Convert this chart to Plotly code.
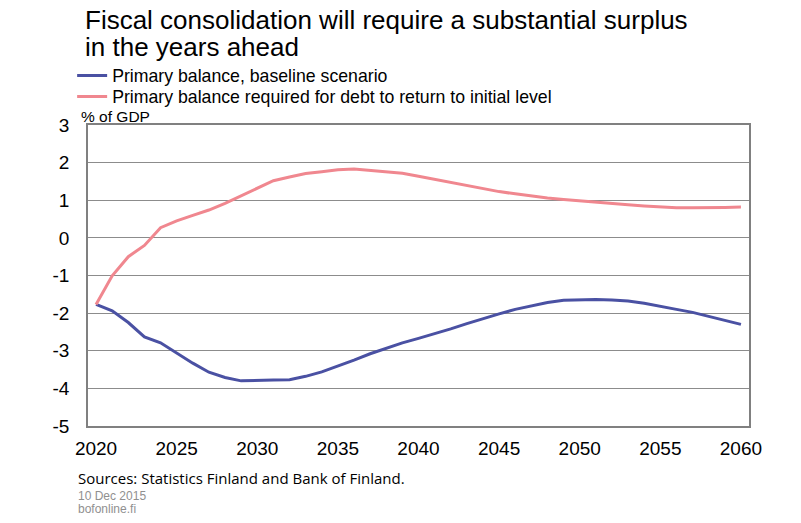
import plotly.graph_objects as go

# Years on the x axis
years = list(range(2020, 2061))

# Primary balance, baseline scenario (% of GDP)
baseline = [-1.77, -1.94, -2.25, -2.63, -2.79, -3.06, -3.33, -3.57, -3.71, -3.80,
            -3.80, -3.78, -3.77, -3.68, -3.56, -3.41, -3.25, -3.08, -2.93, -2.79,
            -2.67, -2.55, -2.42, -2.28, -2.14, -2.02, -1.90, -1.80, -1.72, -1.66,
            -1.64, -1.64, -1.65, -1.68, -1.74, -1.81, -1.90, -1.98, -2.08, -2.19,
            -2.30]

# Primary balance required for debt to return to initial level (% of GDP)
required = [-1.77, -1.01, -0.50, -0.20, 0.27, 0.45, 0.60, 0.74, 0.92, 1.12,
            1.33, 1.52, 1.62, 1.71, 1.76, 1.81, 1.83, 1.80, 1.76, 1.72,
            1.64, 1.56, 1.47, 1.38, 1.30, 1.23, 1.17, 1.11, 1.06, 1.02,
            0.98, 0.94, 0.91, 0.88, 0.85, 0.82, 0.80, 0.80, 0.80, 0.81,
            0.82]

# Tick labels (plain hyphen minus as in the original)
y_ticks = list(range(-5, 4))
y_ticklabels = [str(v) for v in y_ticks]
x_ticks = list(range(2020, 2061, 5))

font_main = "Liberation Sans, Arial, sans-serif"

fig = go.Figure()
fig.add_trace(go.Scatter(
    x=years, y=baseline, mode='lines',
    name='Primary balance, baseline scenario',
    line=dict(color='#4a51a3', width=3),
    legend='legend'
))
fig.add_trace(go.Scatter(
    x=years, y=required, mode='lines',
    name='Primary balance required for debt to return to initial level',
    line=dict(color='#f0878f', width=3),
    legend='legend2'
))

legend_style = dict(
    xanchor='left', yanchor='middle',
    font=dict(size=17.7, family=font_main, color='black'),
    bgcolor='rgba(0,0,0,0)',
    itemwidth=30,
)

# page is drawn with an 8px body margin, so the figure is 8px smaller
fig.update_layout(
    width=793, height=515,
    margin=dict(l=80, r=52, t=117, b=97),
    paper_bgcolor='white',
    plot_bgcolor='white',
    font=dict(family=font_main, color='black'),
    showlegend=True,
    legend=dict(x=-0.024, y=1.163, **legend_style),
    legend2=dict(x=-0.024, y=1.093, **legend_style),
    xaxis=dict(
        range=[2019.5, 2060.5],
        tickvals=x_ticks,
        showgrid=False,
        ticks='', tickfont=dict(size=19),
        ticklabelstandoff=4,
        showline=True, linecolor='#808080', linewidth=1.5, mirror=True,
        zeroline=False,
    ),
    yaxis=dict(
        range=[-5, 3],
        tickvals=y_ticks, ticktext=y_ticklabels,
        showgrid=True, gridcolor='#8c8c8c', gridwidth=1,
        ticks='', tickfont=dict(size=19),
        ticklabelstandoff=13,
        showline=True, linecolor='#808080', linewidth=1.5, mirror=True,
        zeroline=False,
    ),
)

# Title
fig.add_annotation(
    text="Fiscal consolidation will require a substantial surplus",
    xref='paper', yref='paper', x=-0.007, y=(426 - 20) / 301,
    xanchor='left', yanchor='middle', showarrow=False,
    font=dict(size=26, family=font_main, color='black')
)
fig.add_annotation(
    text="in the years ahead",
    xref='paper', yref='paper', x=-0.007, y=(426 - 47) / 301,
    xanchor='left', yanchor='middle', showarrow=False,
    font=dict(size=26, family=font_main, color='black')
)
# Unit label
fig.add_annotation(
    text="% of GDP", xref='paper', yref='paper', x=-0.014, y=1.028,
    xanchor='left', yanchor='middle', showarrow=False,
    font=dict(size=15.5, family=font_main, color='black')
)
# Source
fig.add_annotation(
    text="Sources: Statistics Finland and Bank of Finland.",
    xref='paper', yref='paper', x=-0.018, y=-0.173,
    xanchor='left', yanchor='middle', showarrow=False,
    font=dict(size=15, family="Open Sans, sans-serif", color='black')
)
fig.add_annotation(
    text="10 Dec 2015",
    xref='paper', yref='paper', x=-0.018, y=-0.2326,
    xanchor='left', yanchor='middle', showarrow=False,
    font=dict(size=12, family=font_main, color='#909090')
)
fig.add_annotation(
    text="bofonline.fi",
    xref='paper', yref='paper', x=-0.018, y=-0.2757,
    xanchor='left', yanchor='middle', showarrow=False,
    font=dict(size=12, family=font_main, color='#909090')
)

fig.write_html("out.html")
